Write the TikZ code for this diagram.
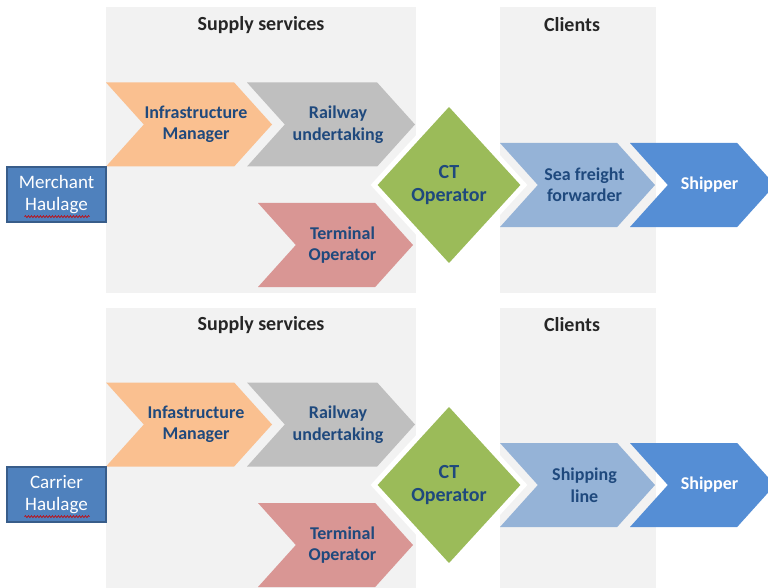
\documentclass[tikz,border=0pt]{standalone}
\usepackage{fontspec}
\setmainfont{Carlito}
\usepackage{tikz}
\usetikzlibrary{shapes.symbols,shapes.geometric,decorations.pathmorphing}
\definecolor{panelgray}{HTML}{F2F2F2}
\definecolor{imorange}{HTML}{FAC090}
\definecolor{rugray}{HTML}{BFBFBF}
\definecolor{topink}{HTML}{D99694}
\definecolor{ctgreen}{HTML}{9BBB59}
\definecolor{clientblue}{HTML}{95B3D7}
\definecolor{shipblue}{HTML}{558ED5}
\definecolor{haulblue}{HTML}{4F81BD}
\definecolor{hauledge}{HTML}{385D8A}
\definecolor{textblue}{HTML}{1F497D}
\tikzset{
  panel/.style={fill=panelgray},
  paneltitle/.style={font=\bfseries\fontsize{20}{24}\selectfont, text=black!85},
  chevron/.style={shape=signal, signal from=west, signal to=east, signal pointer angle=96,
    minimum height=84pt, inner sep=0pt, outer sep=0pt},
  chevrontext/.style={align=center, font=\bfseries\fontsize{18}{21.5}\selectfont, text=textblue},
  ctdiamond/.style={shape=diamond, fill=ctgreen, draw=white, line width=5pt, minimum width=152pt,
    minimum height=166pt, inner sep=0pt, align=center, font=\bfseries\fontsize{20}{23}\selectfont, text=textblue},
  haulagebox/.style={rectangle, fill=haulblue, draw=hauledge, line width=1.2pt, minimum width=99pt,
    minimum height=55pt, align=center, font=\fontsize{19}{22}\selectfont, text=white},
  spellmark/.style={red!80!black, line width=0.6pt, decorate, decoration={snake, amplitude=1pt, segment length=3pt}}
}
\newcommand{\titlenode}[3] {\node at (#1) (#2) [paneltitle] {#3};}
\newcommand{\chevronnode}[5] {\node at (#1) (#2) [chevron, fill=#3, minimum width=#4pt] {}; \node at ([xshift=7pt]#2.center) (#2t) [chevrontext] {#5};}
\newcommand{\ctnode}[2] {\node at (#1) (#2) [ctdiamond] {CT\\Operator};}
\newcommand{\haulagenode}[3] {\node at (#1) (#2) [haulagebox] {#3}; \draw [spellmark] ([xshift=-32pt, yshift=6pt]#2.south) -- ([xshift=33pt, yshift=6pt]#2.south);}

\begin{document}
\begin{tikzpicture}[x=1pt, y=-1pt]
\useasboundingbox (0,0) rectangle (768,588);

% merchant haulage
\fill [panel] (106,7) rectangle (416,293);
\fill [panel] (500,7) rectangle (656,293);
\titlenode {261,25} {ss1} {Supply services}
\titlenode {572,25} {cl1} {Clients}
\chevronnode {189,124.5} {im1} {imorange} {166} {Infrastructure\\Manager}
\chevronnode {331,124.5} {ru1} {rugray} {168} {Railway\\undertaking}
\chevronnode {335.5,245} {to1} {topink} {155} {Terminal\\Operator}
\chevronnode {577.5,185} {sf1} {clientblue} {155} {Sea freight\\forwarder}
\chevronnode {702.5,185} {sh1} {shipblue} {145} {\textcolor{white}{Shipper}}
\ctnode {449,185} {ct1}
\haulagenode {56.5,194.5} {mh} {Merchant\\Haulage}

% carrier haulage
\fill [panel] (106,308) rectangle (416,588);
\fill [panel] (500,308) rectangle (656,588);
\titlenode {261,325} {ss2} {Supply services}
\titlenode {572,325} {cl2} {Clients}
\chevronnode {189,424.5} {im2} {imorange} {166} {Infastructure\\Manager}
\chevronnode {331,424.5} {ru2} {rugray} {168} {Railway\\undertaking}
\chevronnode {335.5,545} {to2} {topink} {155} {Terminal\\Operator}
\chevronnode {577.5,485} {sl2} {clientblue} {155} {Shipping\\line}
\chevronnode {702.5,485} {sh2} {shipblue} {145} {\textcolor{white}{Shipper}}
\ctnode {449,485} {ct2}
\haulagenode {56.5,494.5} {ch} {Carrier\\Haulage}
\end{tikzpicture}
\end{document}
